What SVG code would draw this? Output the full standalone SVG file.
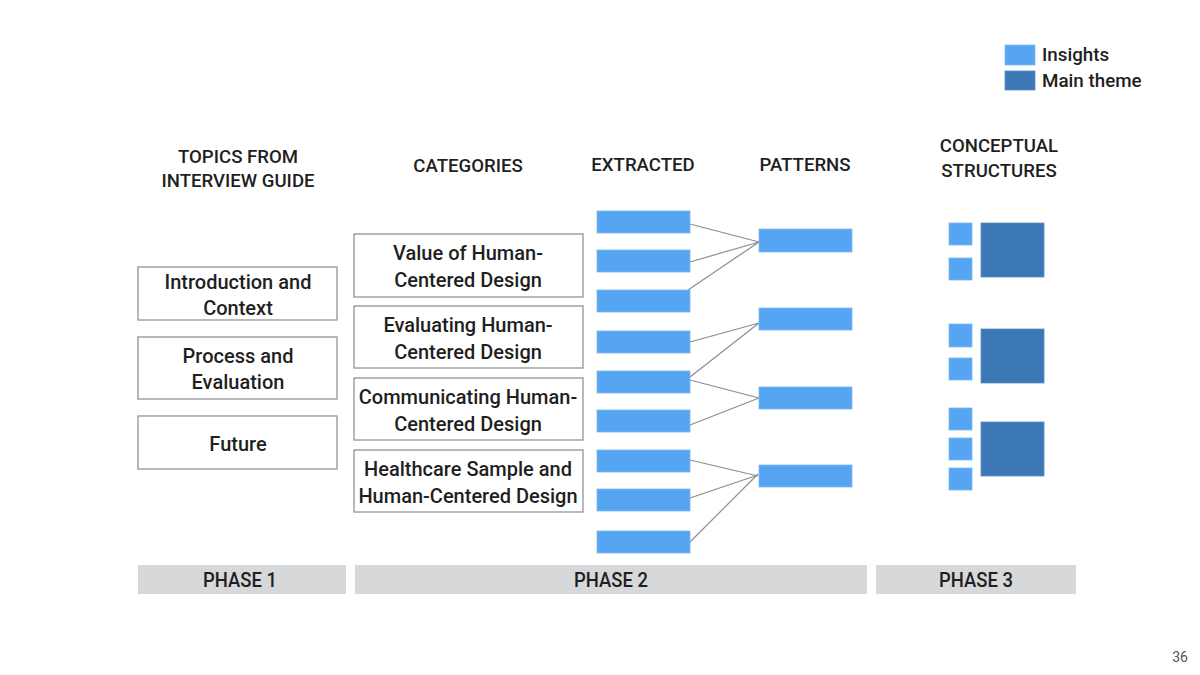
<svg xmlns="http://www.w3.org/2000/svg" width="1200" height="675" viewBox="0 0 1200 675">
<style>
text{font-family:Roboto,"Liberation Sans",sans-serif;fill:#1f1f1f;text-anchor:middle}
.t{font-size:20px;font-weight:500}
.h{font-size:18.6px;font-weight:500}
.lg{font-size:18.8px;font-weight:500;text-anchor:start}
.ph{font-size:21px;font-weight:500}
.box{fill:#fff;stroke:#8a8a8a;stroke-width:1.2}
.ins{fill:#55a5f3;stroke:#7db8f2;stroke-width:0.8}
.main{fill:#3c78b5;stroke:#5a8ec4;stroke-width:0.8}
.bar{fill:#d6d8da}
.ln{stroke:#8c8c8c;stroke-width:1.2;fill:none}
</style>
<rect width="1200" height="675" fill="#fff"/>
<g id="legend">
<rect class="ins" x="1005" y="45" width="30" height="20"/>
<rect class="main" x="1005" y="71" width="30" height="19"/>
<text class="lg" x="1042" y="61">Insights</text>
<text class="lg" x="1042" y="87">Main theme</text>
</g>
<g id="headers">
<text class="h" x="238" y="163">TOPICS FROM</text>
<text class="h" x="238" y="187">INTERVIEW GUIDE</text>
<text class="h" x="468" y="172">CATEGORIES</text>
<text class="h" x="643" y="171">EXTRACTED</text>
<text class="h" x="805" y="171">PATTERNS</text>
<text class="h" x="999" y="152">CONCEPTUAL</text>
<text class="h" x="999" y="177">STRUCTURES</text>
</g>
<g id="topic-intro"><rect class="box" x="138" y="267" width="199" height="53"/><text class="t" x="238" y="289">Introduction and</text><text class="t" x="238" y="315">Context</text></g>
<g id="topic-process"><rect class="box" x="138" y="337" width="199" height="62"/><text class="t" x="238" y="363">Process and</text><text class="t" x="238" y="389">Evaluation</text></g>
<g id="topic-future"><rect class="box" x="138" y="416" width="199" height="53"/><text class="t" x="238" y="451">Future</text></g>
<g id="cat-value"><rect class="box" x="354" y="234" width="229" height="63"/><text class="t" x="468" y="260">Value of Human-</text><text class="t" x="468" y="287">Centered Design</text></g>
<g id="cat-eval"><rect class="box" x="354" y="306" width="229" height="62"/><text class="t" x="468" y="332">Evaluating Human-</text><text class="t" x="468" y="359">Centered Design</text></g>
<g id="cat-comm"><rect class="box" x="354" y="378" width="229" height="62"/><text class="t" x="468" y="404">Communicating Human-</text><text class="t" x="468" y="431">Centered Design</text></g>
<g id="cat-health"><rect class="box" x="354" y="450" width="229" height="62"/><text class="t" x="468" y="476">Healthcare Sample and</text><text class="t" x="468" y="503">Human-Centered Design</text></g>
<g id="connectors">
<line class="ln" x1="690" y1="224" x2="759" y2="242"/>
<line class="ln" x1="690" y1="262" x2="759" y2="242"/>
<line class="ln" x1="688" y1="290" x2="759" y2="242"/>
<line class="ln" x1="690" y1="342" x2="759" y2="323"/>
<line class="ln" x1="690" y1="377" x2="759" y2="323"/>
<line class="ln" x1="690" y1="380" x2="759" y2="398"/>
<line class="ln" x1="690" y1="425" x2="759" y2="398"/>
<line class="ln" x1="690" y1="460" x2="758" y2="476"/>
<line class="ln" x1="690" y1="498" x2="758" y2="475"/>
<line class="ln" x1="690" y1="542" x2="758" y2="474"/>
</g>
<g id="extracted">
<rect class="ins" x="597" y="211" width="93" height="22"/>
<rect class="ins" x="597" y="250" width="93" height="22"/>
<rect class="ins" x="597" y="290" width="93" height="22"/>
<rect class="ins" x="597" y="331" width="93" height="22"/>
<rect class="ins" x="597" y="371" width="93" height="22"/>
<rect class="ins" x="597" y="410" width="93" height="22"/>
<rect class="ins" x="597" y="450" width="93" height="22"/>
<rect class="ins" x="597" y="489" width="93" height="22"/>
<rect class="ins" x="597" y="531" width="93" height="22"/>
</g>
<g id="patterns">
<rect class="ins" x="759" y="229" width="93" height="23"/>
<rect class="ins" x="759" y="308" width="93" height="22"/>
<rect class="ins" x="759" y="387" width="93" height="22"/>
<rect class="ins" x="759" y="465" width="93" height="22"/>
</g>
<g id="structures">
<rect class="ins" x="949" y="223" width="23" height="22"/>
<rect class="ins" x="949" y="258" width="23" height="22"/>
<rect class="main" x="981" y="223" width="63" height="54"/>
<rect class="ins" x="949" y="324" width="23" height="23"/>
<rect class="ins" x="949" y="358" width="23" height="22"/>
<rect class="main" x="981" y="329" width="63" height="54"/>
<rect class="ins" x="949" y="408" width="23" height="22"/>
<rect class="ins" x="949" y="438" width="23" height="22"/>
<rect class="ins" x="949" y="468" width="23" height="22"/>
<rect class="main" x="981" y="422" width="63" height="54"/>
</g>
<g id="phase1"><rect class="bar" x="138" y="565" width="208" height="29"/><text class="ph" x="240" y="587" textLength="74" lengthAdjust="spacingAndGlyphs">PHASE 1</text></g>
<g id="phase2"><rect class="bar" x="355" y="565" width="512" height="29"/><text class="ph" x="611" y="587" textLength="74" lengthAdjust="spacingAndGlyphs">PHASE 2</text></g>
<g id="phase3"><rect class="bar" x="876" y="565" width="200" height="29"/><text class="ph" x="976" y="587" textLength="74" lengthAdjust="spacingAndGlyphs">PHASE 3</text></g>
<text x="1180" y="662" style="font-size:14px;fill:#555;font-family:Roboto,sans-serif">36</text>
</svg>
